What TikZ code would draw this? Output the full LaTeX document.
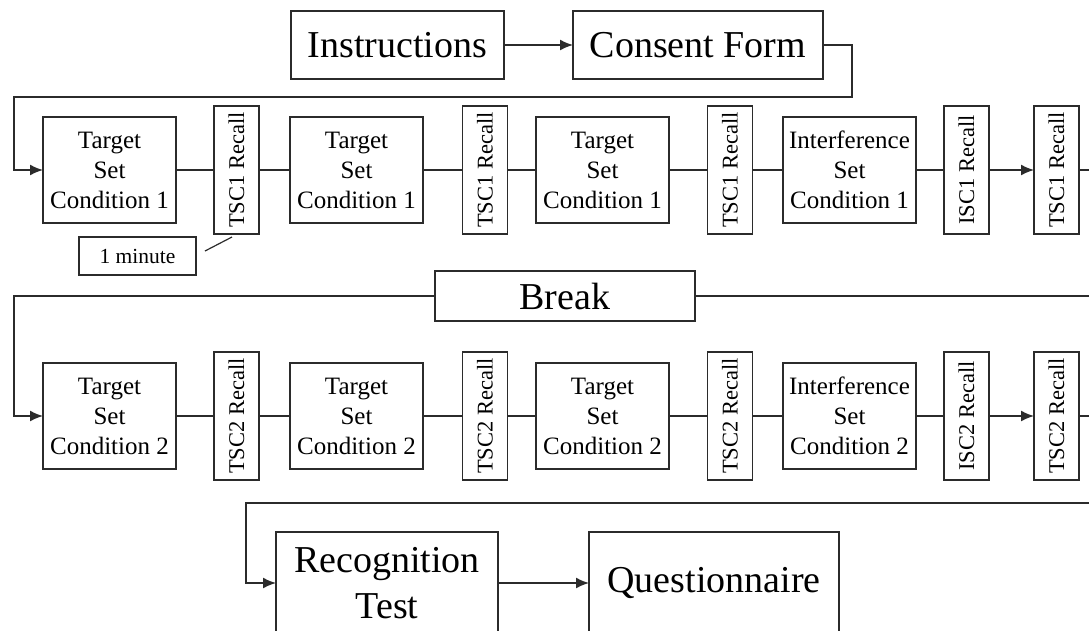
\documentclass[tikz,border=0pt]{standalone}
\usepackage{fontspec}
\setmainfont{Liberation Serif}
\usepackage{graphicx}
\usetikzlibrary{arrows.meta,calc}
\definecolor{ink}{HTML}{2B2B2B}

\begin{document}
\begin{tikzpicture}[x=1pt,y=-1pt,
  every node/.style={inner sep=0pt, outer sep=0pt},
  box/.style={draw=ink, line width=1.6pt, fill=white, align=center},
  bigbox/.style={box, font=\fontsize{38}{46}\selectfont},
  setbox/.style={box, minimum width=133pt, minimum height=106pt, font=\fontsize{25}{30}\selectfont},
  recallbox/.style={box, minimum width=45pt, minimum height=128pt, font=\fontsize{22.5}{27}\selectfont},
  notebox/.style={box, minimum width=117pt, minimum height=38pt, font=\fontsize{21.5}{26}\selectfont},
  link/.style={draw=ink, line width=1.6pt},
  flow/.style={link, -{Latex[length=13pt,width=11pt]}},
]
\useasboundingbox (0,0) rectangle (1089,630);
\clip (0,0) rectangle (1089,630);

% opening steps
\node[bigbox, minimum width=213pt, minimum height=68pt] (instr) at (397.5,45) {Instructions};
\node[bigbox, minimum width=250pt, minimum height=68pt] (consent) at (698,45) {Consent Form};

% first session
\node[setbox] (t1a) at (109.5,170) {Target\\Set\\Condition 1};
\node[recallbox] (r1a) at (236.5,170) {\rotatebox{90}{TSC1 Recall}};
\node[setbox] (t1b) at (356.5,170) {Target\\Set\\Condition 1};
\node[recallbox] (r1b) at (485,170) {\rotatebox{90}{TSC1 Recall}};
\node[setbox] (t1c) at (602.5,170) {Target\\Set\\Condition 1};
\node[recallbox] (r1c) at (730,170) {\rotatebox{90}{TSC1 Recall}};
\node[setbox] (i1) at (849.5,170) {Interference\\Set\\Condition 1};
\node[recallbox] (ir1) at (966.5,170) {\rotatebox{90}{ISC1 Recall}};
\node[recallbox] (r1d) at (1056.5,170) {\rotatebox{90}{TSC1 Recall}};
\node[notebox] (minute) at (137.5,256) {1 minute};

% break
\node[bigbox, minimum width=260pt, minimum height=50pt] (brk) at (565,296) {Break};

% second session
\node[setbox] (t2a) at (109.5,416) {Target\\Set\\Condition 2};
\node[recallbox] (r2a) at (236.5,416) {\rotatebox{90}{TSC2 Recall}};
\node[setbox] (t2b) at (356.5,416) {Target\\Set\\Condition 2};
\node[recallbox] (r2b) at (485,416) {\rotatebox{90}{TSC2 Recall}};
\node[setbox] (t2c) at (602.5,416) {Target\\Set\\Condition 2};
\node[recallbox] (r2c) at (730,416) {\rotatebox{90}{TSC2 Recall}};
\node[setbox] (i2) at (849.5,416) {Interference\\Set\\Condition 2};
\node[recallbox] (ir2) at (966.5,416) {\rotatebox{90}{ISC2 Recall}};
\node[recallbox] (r2d) at (1056.5,416) {\rotatebox{90}{TSC2 Recall}};

% closing steps
\node[bigbox, minimum width=222pt, minimum height=102pt] (rec) at (387,583) {Recognition\\Test};
\node[bigbox, minimum width=250pt, minimum height=102pt] (quest) at (714,583) {Questionnaire};

% off-page continuations
\coordinate (e1) at (1095,170);
\coordinate (e2) at (1095,416);
\coordinate (brkR) at (1095,296);
\coordinate (endR) at (1095,503);

% connectors
\draw[flow] (instr) -- (consent);
\draw[flow] (consent.east) -| (852,97) -| ($(t1a.west)+(-29,0)$) -- (t1a.west);

\foreach \a/\b in {t1a/r1a, r1a/t1b, t1b/r1b, r1b/t1c, t1c/r1c, r1c/i1, i1/ir1,
                   t2a/r2a, r2a/t2b, t2b/r2b, r2b/t2c, t2c/r2c, r2c/i2, i2/ir2}
  \draw[link] (\a) -- (\b);
\draw[flow] (ir1) -- (r1d);
\draw[flow] (ir2) -- (r2d);
\draw[link] (r1d.east) -- (e1);
\draw[link] (r2d.east) -- (e2);

\draw[link, line width=1.2pt] ($(minute.east)+(9,-5)$) -- ($(r1a.south)+(-4.5,3)$);

\draw[link] (brkR) -- (brk.east);
\draw[flow] (brk.west) -| ($(t2a.west)+(-29,0)$) -- (t2a.west);

\draw[flow] (endR) -| ($(rec.west)+(-30,0)$) -- (rec.west);
\draw[flow] (rec) -- (quest);
\end{tikzpicture}
\end{document}
